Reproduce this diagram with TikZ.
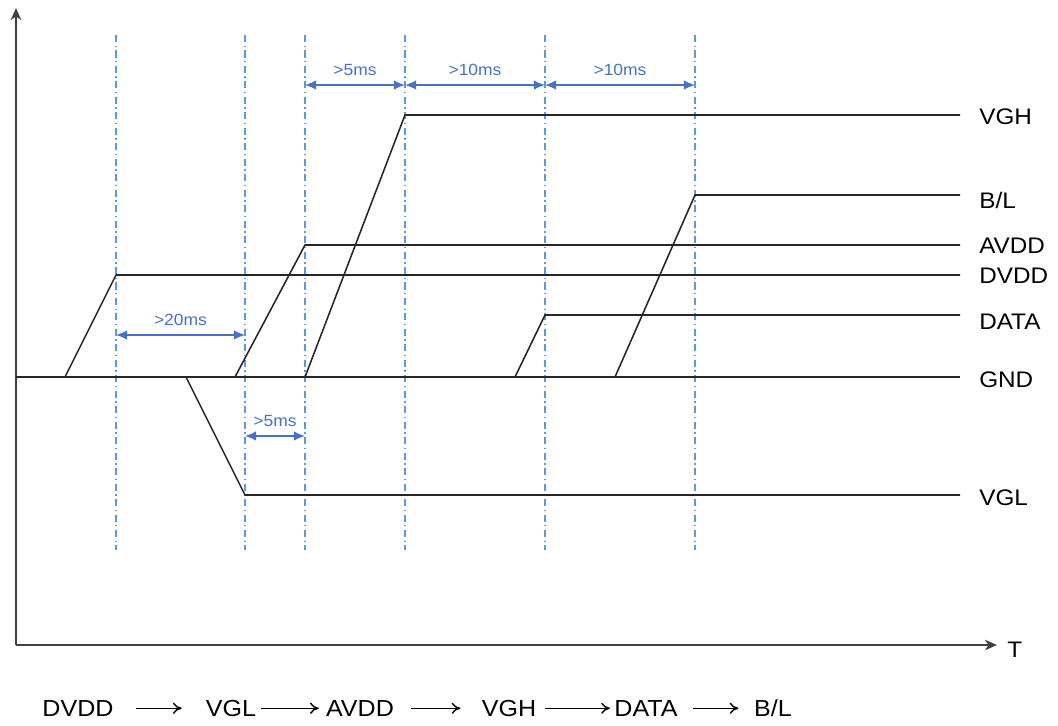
\documentclass[tikz,border=0pt]{standalone}
\usepackage{fontspec}
\setmainfont[FakeStretch=1.08]{Liberation Sans}
\usetikzlibrary{arrows.meta,positioning}
\definecolor{timingGuide}{RGB}{91, 155, 213}
\definecolor{timingGap}{RGB}{68, 114, 196}

\begin{document}
\begin{tikzpicture}[
  x=0.025cm,
  y=-0.025cm,
  axis/.style={line width=1.3pt,-{Stealth[length=3mm,width=2.6mm,inset=0.9mm]},black!75},
  signal/.style={line width=1.1pt,black!85},
  guide/.style={timingGuide,line width=0.8pt,dash pattern=on 5pt off 2.5pt on 1pt off 2.5pt},
  gap/.style={timingGap,line width=1pt,{Latex[length=2.8mm,width=2.4mm]}-{Latex[length=2.8mm,width=2.4mm]}},
  gaplabel/.style={font=\fontsize{11.5}{13}\selectfont,inner sep=0pt},
  signame/.style={font=\fontsize{16}{19}\selectfont,anchor=west,inner sep=0pt},
  order/.style={font=\fontsize{16.5}{19}\selectfont,anchor=base,inner sep=0pt},
  seq/.style={line width=1pt,-{To[length=2.2mm,width=2.8mm]}}
]
  \useasboundingbox (0,0) rectangle (1058,725);

  % axes
  \coordinate (origin) at (16,645);
  \coordinate (ytop) at (16,8);
  \coordinate (xend) at (997,645);
  \draw[axis] (origin) -- (ytop);
  \draw[axis] (origin) -- (xend);
  \node[signame] (t) at (1007,650) {T};

  % guide lines
  \foreach \gx/\gn in {116/a,245/b,305/c,405/d,545/e,695/f} {
    \coordinate (top\gn) at (\gx,35);
    \coordinate (bot\gn) at (\gx,550);
    \draw[guide] (top\gn) -- (bot\gn);
  }

  % waveforms
  \draw[signal] (16,377) -- (960,377);
  \draw[signal] (65,377) -- (116,275) -- (960,275);
  \draw[signal] (186,377) -- (245,495) -- (960,495);
  \draw[signal] (235,377) -- (305,245) -- (960,245);
  \draw[signal] (305,377) -- (405,115) -- (960,115);
  \draw[signal] (515,377) -- (545,315) -- (960,315);
  \draw[signal] (615,377) -- (695,195) -- (960,195);

  % signal names
  \node[signame] (vgh) at (979,117) {VGH};
  \node[signame] (bl) at (979,200) {B/L};
  \node[signame] (avdd) at (979,246) {AVDD};
  \node[signame] (dvdd) at (979,276) {DVDD};
  \node[signame] (data) at (979,322) {DATA};
  \node[signame] (gnd) at (979,380) {GND};
  \node[signame] (vgl) at (979,498) {VGL};

  % timing gaps
  \draw[gap] (305,85) -- node[gaplabel,above=6pt] (g1) {>5ms} (405,85);
  \draw[gap] (405,85) -- node[gaplabel,above=6pt] (g2) {>10ms} (545,85);
  \draw[gap] (545,85) -- node[gaplabel,above=6pt] (g3) {>10ms} (695,85);
  \draw[gap] (116,335) -- node[gaplabel,above=6pt] (g4) {>20ms} (245,335);
  \draw[gap] (245,436) -- node[gaplabel,above=6pt] (g5) {>5ms} (305,436);

  % power-on order
  \node[order] (s1) at (78,716) {DVDD};
  \node[order] (s2) at (231,716) {VGL};
  \node[order] (s3) at (360,716) {AVDD};
  \node[order] (s4) at (509,716) {VGH};
  \node[order] (s5) at (646,716) {DATA};
  \node[order] (s6) at (773,716) {B/L};
  \foreach \a/\b/\s/\e in {s1/s2/16pt/17pt,s2/s3/3pt/5pt,s3/s4/12pt/15pt,s4/s5/6pt/3pt,s5/s6/11pt/11pt}
    \draw[seq,shorten <=\s,shorten >=\e] ([yshift=5.5pt]\a.base east) -- ([yshift=5.5pt]\b.base west);
\end{tikzpicture}
\end{document}
